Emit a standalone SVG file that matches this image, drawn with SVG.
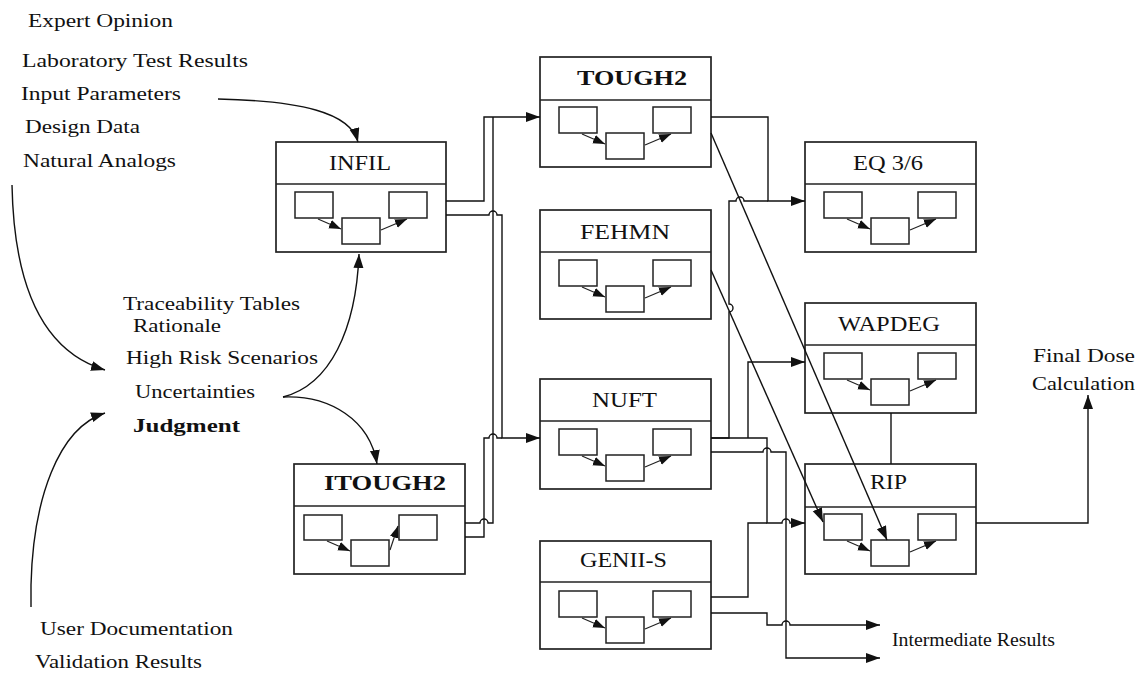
<svg xmlns="http://www.w3.org/2000/svg" width="1145" height="673" viewBox="0 0 1145 673" font-family="Liberation Serif, serif">
<style>
text{font-family:'Liberation Serif',serif;font-size:19px;fill:#111}
.t{font-size:20px}
.b{font-weight:bold}
.box{fill:#fff;stroke:#222;stroke-width:1.7}
.in{fill:#fff;stroke:#222;stroke-width:1.5}
.ia{fill:none;stroke:#222;stroke-width:1.2;marker-end:url(#sa)}
.c{fill:none;stroke:#111;stroke-width:1.4}
.a{marker-end:url(#ar)}
</style>
<defs>
<marker id="ar" markerUnits="userSpaceOnUse" markerWidth="15" markerHeight="11" refX="14" refY="5" orient="auto"><path d="M0,0 L14,5 L0,10 z" fill="#111"/></marker>
<marker id="sa" markerUnits="userSpaceOnUse" markerWidth="13" markerHeight="10" refX="12" refY="4.5" orient="auto"><path d="M0,0 L12,4.5 L0,9 z" fill="#111"/></marker>
<g id="inner">
<rect class="in" x="19" y="50" width="38" height="26"/>
<rect class="in" x="66" y="76" width="38" height="26"/>
<rect class="in" x="113" y="50" width="38" height="26"/>
<path class="ia" d="M42,77 L65,87"/>
<path class="ia" d="M105,88 L131,77"/>
</g>
</defs>
<rect width="1145" height="673" fill="#fff"/>

<g id="labels">
<text x="28" y="27" textLength="145" lengthAdjust="spacingAndGlyphs">Expert Opinion</text>
<text x="22" y="67" textLength="226" lengthAdjust="spacingAndGlyphs">Laboratory Test Results</text>
<text x="21" y="100" textLength="160" lengthAdjust="spacingAndGlyphs">Input Parameters</text>
<text x="25" y="133" textLength="115" lengthAdjust="spacingAndGlyphs">Design Data</text>
<text x="23" y="167" textLength="153" lengthAdjust="spacingAndGlyphs">Natural Analogs</text>
<text x="123" y="310" textLength="177" lengthAdjust="spacingAndGlyphs">Traceability Tables</text>
<text x="133" y="332" textLength="88" lengthAdjust="spacingAndGlyphs">Rationale</text>
<text x="126" y="364" textLength="192" lengthAdjust="spacingAndGlyphs">High Risk Scenarios</text>
<text x="135" y="398" textLength="120" lengthAdjust="spacingAndGlyphs">Uncertainties</text>
<text class="b" x="133" y="432" textLength="107" lengthAdjust="spacingAndGlyphs">Judgment</text>
<text x="40" y="635" textLength="193" lengthAdjust="spacingAndGlyphs">User Documentation</text>
<text x="35" y="668" textLength="167" lengthAdjust="spacingAndGlyphs">Validation Results</text>
<text x="1033" y="362" textLength="102" lengthAdjust="spacingAndGlyphs">Final Dose</text>
<text x="1032" y="390" textLength="103" lengthAdjust="spacingAndGlyphs">Calculation</text>
<text x="892" y="646" textLength="163" lengthAdjust="spacingAndGlyphs">Intermediate Results</text>
</g>

<g id="INFIL" transform="translate(276,142)">
<rect class="box" width="170" height="110"/><path class="box" d="M0,42 H170"/>
<text class="t" x="53" y="28" textLength="62" lengthAdjust="spacingAndGlyphs">INFIL</text>
<use href="#inner"/>
</g>
<g id="TOUGH2" transform="translate(540,57)">
<rect class="box" width="171" height="110"/><path class="box" d="M0,43 H171"/>
<text class="t b" x="37" y="28" textLength="110" lengthAdjust="spacingAndGlyphs">TOUGH2</text>
<use href="#inner"/>
</g>
<g id="FEHMN" transform="translate(540,210)">
<rect class="box" width="171" height="109"/><path class="box" d="M0,42 H171"/>
<text class="t" x="40" y="29" textLength="90" lengthAdjust="spacingAndGlyphs">FEHMN</text>
<use href="#inner"/>
</g>
<g id="NUFT" transform="translate(540,379)">
<rect class="box" width="171" height="110"/><path class="box" d="M0,42 H171"/>
<text class="t" x="52" y="28" textLength="65" lengthAdjust="spacingAndGlyphs">NUFT</text>
<use href="#inner"/>
</g>
<g id="GENII-S" transform="translate(540,541)">
<rect class="box" width="171" height="108"/><path class="box" d="M0,41 H171"/>
<text class="t" x="40" y="26" textLength="87" lengthAdjust="spacingAndGlyphs">GENII-S</text>
<use href="#inner"/>
</g>
<g id="ITOUGH2" transform="translate(294,464)">
<rect class="box" width="171" height="110"/><path class="box" d="M0,42 H171"/>
<text class="t b" x="30" y="26" textLength="122" lengthAdjust="spacingAndGlyphs">ITOUGH2</text>
<rect class="in" x="10" y="51" width="38" height="25"/>
<rect class="in" x="57" y="76" width="38" height="26"/>
<rect class="in" x="105" y="51" width="38" height="25"/>
<path class="ia" d="M33,77 L56,87"/>
<path class="ia" d="M96,86 L104,62"/>
</g>
<g id="EQ36" transform="translate(805,142)">
<rect class="box" width="171" height="110"/><path class="box" d="M0,42 H171"/>
<text class="t" x="48" y="28" textLength="70" lengthAdjust="spacingAndGlyphs">EQ 3/6</text>
<use href="#inner"/>
</g>
<g id="WAPDEG" transform="translate(805,303)">
<rect class="box" width="171" height="110"/><path class="box" d="M0,42 H171"/>
<text class="t" x="33" y="28" textLength="102" lengthAdjust="spacingAndGlyphs">WAPDEG</text>
<use href="#inner"/>
</g>
<g id="RIP" transform="translate(805,464)">
<rect class="box" width="171" height="110"/><path class="box" d="M0,43 H171"/>
<text class="t" x="65" y="25" textLength="37" lengthAdjust="spacingAndGlyphs">RIP</text>
<use href="#inner"/>
</g>

<g id="connectors">
<path class="c a" d="M218,99 C300,101 350,112 358,142"/>
<path class="c a" d="M12,185 C14,290 45,352 105,370"/>
<path class="c a" d="M31,607 V585 C33,500 58,428 105,413"/>
<path class="c a" d="M283,397 C330,385 356,330 359,254"/>
<path class="c a" d="M283,397 C330,395 370,420 377,464"/>
<path class="c a" d="M446,201 H484 V117 H540"/>
<path class="c a" d="M446,215 H489 a4,4 0 0 1 8,0 H502 V438 H540"/>
<path class="c" d="M465,537 H484 V438 H489 a4,4 0 0 1 8,0 H502"/>
<path class="c" d="M465,523 H480 a4,4 0 0 1 8,0 H493 V117"/>
<path class="c a" d="M711,117 H768 V201 H805"/>
<path class="c" d="M711,438 H729 V312 a4,4 0 0 0 0,-8 V201 H736 a4,4 0 0 1 8,0 H768"/>
<path class="c a" d="M748,438 V362 H805"/>
<path class="c a" d="M711,438 H767 V523 H782 a4,4 0 0 1 8,0 H805"/>
<path class="c a" d="M711,452 H763 a4,4 0 0 1 8,0 H786 V658 H880"/>
<path class="c" d="M711,597 H748 V523 H767"/>
<path class="c a" d="M711,613 H767 V625 H782 a4,4 0 0 1 8,0 H880"/>
<path class="c a" d="M711,133 L887,540"/>
<path class="c a" d="M711,270 L823,522"/>
<path class="c" d="M891,413 V464"/>
<path class="c a" d="M976,523 H1088 V395"/>
</g>
</svg>
